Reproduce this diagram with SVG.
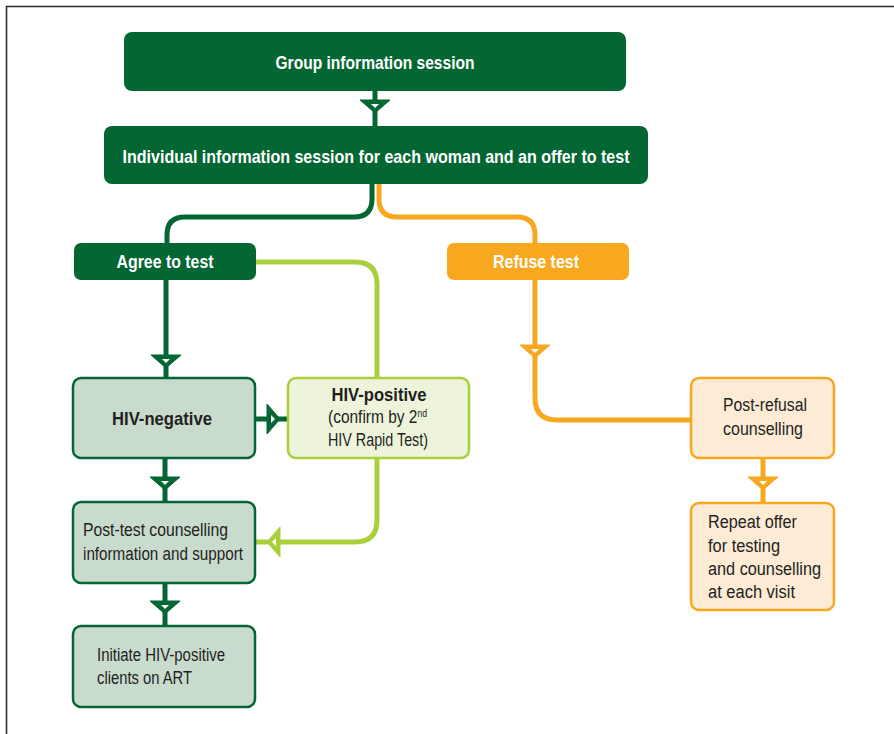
<svg xmlns="http://www.w3.org/2000/svg" xmlns:xlink="http://www.w3.org/1999/xlink" width="894" height="734" viewBox="0 0 894 734">
  <style>
    text { font-family: "Liberation Sans Narrow", "Liberation Sans", Arial, sans-serif; font-size: 18px; fill: #231f20; }
    .hd { font-weight: bold; fill: #ffffff; text-anchor: middle; font-size: 18.5px; }
    .bd { font-weight: bold; font-size: 18.5px; }
    .mid { text-anchor: middle; }
    .box-dark { fill: #036633; }
    .box-orange { fill: #f8a81e; }
    .box-grey { fill: #c9dbcd; stroke: #036633; stroke-width: 2.5; }
    .box-lime { fill: #eef4dc; stroke: #a9d03b; stroke-width: 2.5; }
    .box-peach { fill: #fdebd6; stroke: #f8a81e; stroke-width: 2.5; }
    .ln { fill: none; stroke-width: 5; }
    .g { stroke: #036633; color: #036633; }
    .o { stroke: #f8a81e; color: #f8a81e; }
    .l { stroke: #a9d03b; color: #a9d03b; }
  </style>
  <defs>
    <!-- open arrowhead, pointing down, base at y=0 -->
    <g id="ah">
      <polygon points="-15,0 15,0 0,13" fill="currentColor"/>
      <polygon points="-5,3.5 5,3.5 0,8.5" fill="#ffffff"/>
    </g>
  </defs>

  <!-- page frame -->
  <path d="M894,6.5 H6.5 V734" fill="none" stroke="#2b2b2b" stroke-width="1.6"/>

  <g id="connectors">
    <line class="ln g" x1="375" y1="91" x2="375" y2="126"/>
    <use xlink:href="#ah" class="g" transform="translate(375,100)"/>

    <path class="ln g" d="M372,184 V199 Q372,217 354,217 H185 Q167,217 167,235 V243"/>
    <path class="ln o" d="M379,184 V199 Q379,217 397,217 H517 Q535,217 535,235 V243"/>

    <line class="ln g" x1="166" y1="280" x2="166" y2="378"/>
    <use xlink:href="#ah" class="g" transform="translate(166,355)"/>

    <path class="ln l" d="M256,262 H355 Q377,262 377,284 V378"/>
    <path class="ln l" d="M377,458 V520 Q377,542 355,542 H256"/>
    <use xlink:href="#ah" class="l" transform="translate(280,542) rotate(90)"/>

    <line class="ln g" x1="255" y1="419" x2="288" y2="419"/>
    <use xlink:href="#ah" class="g" transform="translate(267,419) rotate(-90)"/>

    <line class="ln g" x1="165" y1="458" x2="165" y2="502"/>
    <use xlink:href="#ah" class="g" transform="translate(165,477)"/>

    <line class="ln g" x1="165" y1="583" x2="165" y2="626"/>
    <use xlink:href="#ah" class="g" transform="translate(165,601)"/>

    <path class="ln o" d="M535,280 V398 Q535,420 557,420 H691"/>
    <use xlink:href="#ah" class="o" transform="translate(535,345)"/>

    <line class="ln o" x1="763" y1="458" x2="763" y2="503"/>
    <use xlink:href="#ah" class="o" transform="translate(763,477)"/>
  </g>

  <g id="group-session">
    <rect class="box-dark" x="124" y="32" width="502" height="59" rx="8"/>
    <text class="hd" x="375" y="69" textLength="199" lengthAdjust="spacingAndGlyphs">Group information session</text>
  </g>

  <g id="individual-session">
    <rect class="box-dark" x="104" y="126" width="544" height="58" rx="8"/>
    <text class="hd" x="376" y="163" textLength="507" lengthAdjust="spacingAndGlyphs">Individual information session for each woman and an offer to test</text>
  </g>

  <g id="agree">
    <rect class="box-dark" x="74" y="243" width="182" height="37" rx="7"/>
    <text class="hd" x="165" y="268" textLength="97" lengthAdjust="spacingAndGlyphs">Agree to test</text>
  </g>

  <g id="refuse">
    <rect class="box-orange" x="447" y="243" width="182" height="37" rx="7"/>
    <text class="hd" x="536" y="268" textLength="86" lengthAdjust="spacingAndGlyphs">Refuse test</text>
  </g>

  <g id="hiv-negative">
    <rect class="box-grey" x="73" y="378" width="182" height="80" rx="8"/>
    <text class="bd mid" x="162" y="425" textLength="100" lengthAdjust="spacingAndGlyphs">HIV-negative</text>
  </g>

  <g id="hiv-positive">
    <rect class="box-lime" x="288" y="378" width="181" height="80" rx="8"/>
    <text class="bd mid" x="379" y="401" textLength="95" lengthAdjust="spacingAndGlyphs">HIV-positive</text>
    <text x="328" y="423" textLength="99" lengthAdjust="spacingAndGlyphs">(confirm by 2<tspan dy="-6" font-size="10">nd</tspan></text>
    <text x="328" y="446" textLength="100" lengthAdjust="spacingAndGlyphs">HIV Rapid Test)</text>
  </g>

  <g id="post-test">
    <rect class="box-grey" x="73" y="502" width="182" height="81" rx="8"/>
    <text x="83" y="536" textLength="145" lengthAdjust="spacingAndGlyphs">Post-test counselling</text>
    <text x="83" y="560" textLength="160" lengthAdjust="spacingAndGlyphs">information and support</text>
  </g>

  <g id="initiate-art">
    <rect class="box-grey" x="73" y="626" width="182" height="81" rx="8"/>
    <text x="97" y="661" textLength="128" lengthAdjust="spacingAndGlyphs">Initiate HIV-positive</text>
    <text x="97" y="684" textLength="95" lengthAdjust="spacingAndGlyphs">clients on ART</text>
  </g>

  <g id="post-refusal">
    <rect class="box-peach" x="691" y="378" width="143" height="80" rx="8"/>
    <text x="723" y="411" textLength="84" lengthAdjust="spacingAndGlyphs">Post-refusal</text>
    <text x="723" y="435" textLength="80" lengthAdjust="spacingAndGlyphs">counselling</text>
  </g>

  <g id="repeat-offer">
    <rect class="box-peach" x="691" y="503" width="143" height="107" rx="8"/>
    <text x="708" y="528" textLength="89" lengthAdjust="spacingAndGlyphs">Repeat offer</text>
    <text x="708" y="552" textLength="72" lengthAdjust="spacingAndGlyphs">for testing</text>
    <text x="708" y="575" textLength="113" lengthAdjust="spacingAndGlyphs">and counselling</text>
    <text x="708" y="598" textLength="87" lengthAdjust="spacingAndGlyphs">at each visit</text>
  </g>
</svg>
